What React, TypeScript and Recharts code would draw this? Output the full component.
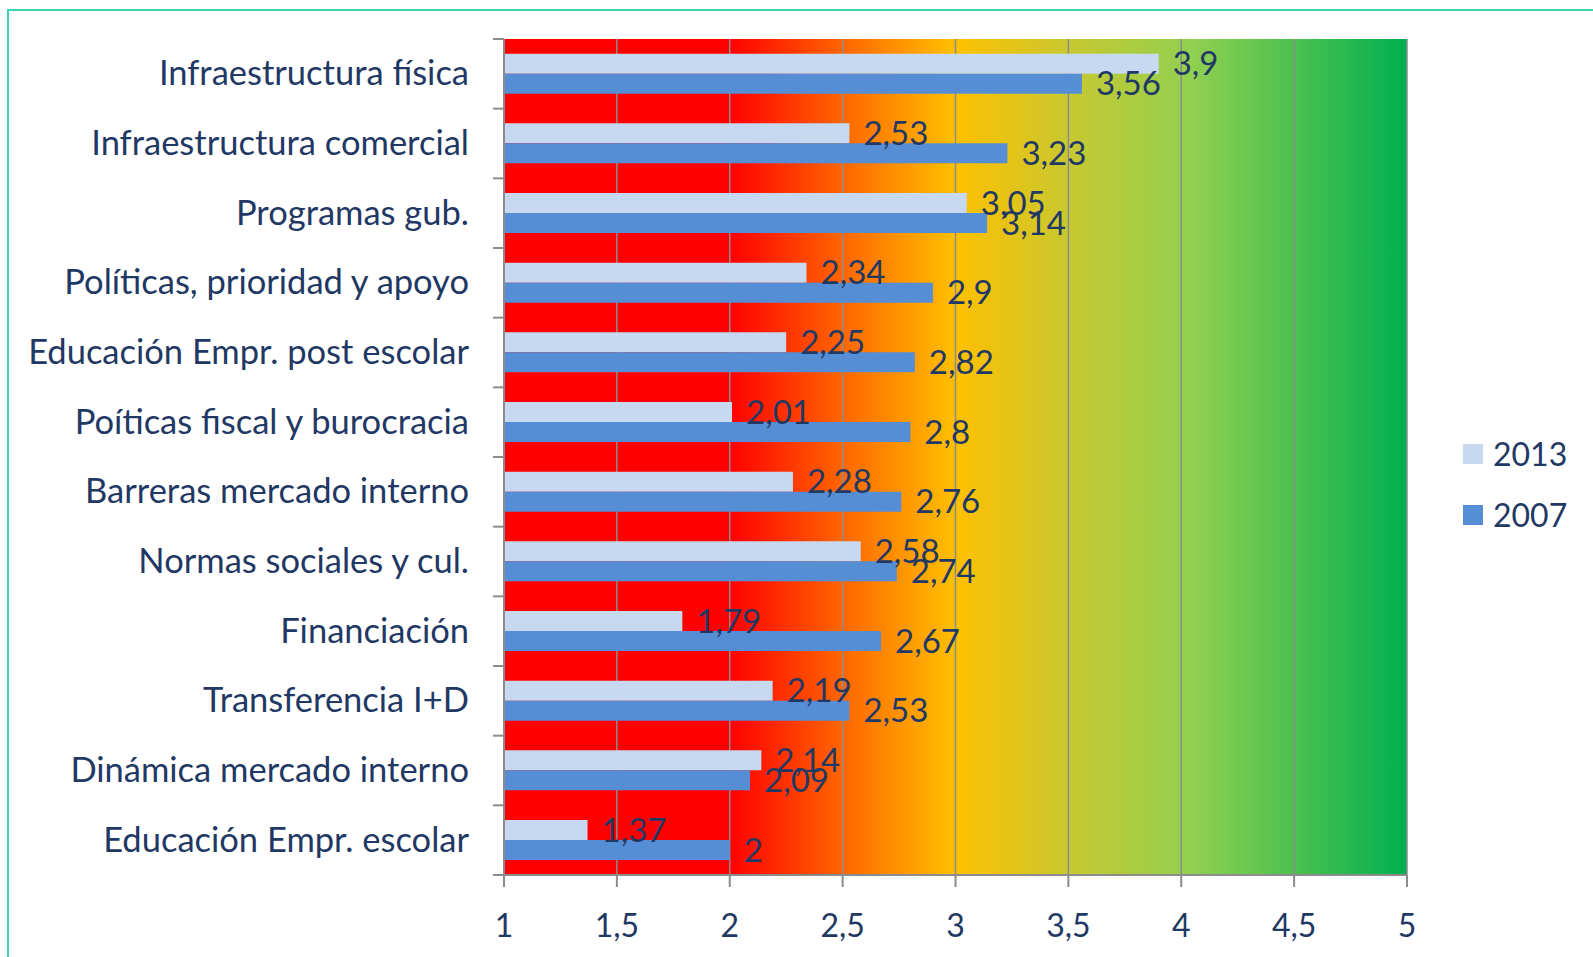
import {
  BarChart,
  Bar,
  XAxis,
  YAxis,
  CartesianGrid,
  LabelList,
} from "recharts";

const categories = [
  "Infraestructura física",
  "Infraestructura comercial",
  "Programas gub.",
  "Políticas, prioridad y apoyo",
  "Educación Empr. post escolar",
  "Poíticas fiscal y burocracia",
  "Barreras mercado interno",
  "Normas sociales y cul.",
  "Financiación",
  "Transferencia I+D",
  "Dinámica mercado interno",
  "Educación Empr. escolar",
];

const values2013 = [3.9, 2.53, 3.05, 2.34, 2.25, 2.01, 2.28, 2.58, 1.79, 2.19, 2.14, 1.37];
const values2007 = [3.56, 3.23, 3.14, 2.9, 2.82, 2.8, 2.76, 2.74, 2.67, 2.53, 2.09, 2];

const xTicks = [1, 1.5, 2, 2.5, 3, 3.5, 4, 4.5, 5];

const series = [
  { key: "v2013", name: "2013", color: "#c6d9f1" },
  { key: "v2007", name: "2007", color: "#558ed5" },
];

const data = categories.map((name, i) => ({
  name,
  v2013: values2013[i],
  v2007: values2007[i],
}));

const TEXT = "#1f3864";
const AXIS = "#8c8c8c";
const FONT = "Lato, 'Open Sans', sans-serif";

const W = 1593;
const H = 957;
const PLOT_TOP = 39;
const PLOT_BOTTOM = 875;
const Y_AXIS_W = 504;
const RIGHT = 186;
const band = (PLOT_BOTTOM - PLOT_TOP) / categories.length;

const fmt = (v: number | string) => String(v).replace(".", ",");

const CategoryTick = (props: any) => {
  const { x, y, payload, index } = props;
  const top = y - band / 2;
  return (
    <g>
      <line x1={Y_AXIS_W - 11} x2={Y_AXIS_W} y1={top} y2={top} stroke={AXIS} strokeWidth={2} />
      {index === categories.length - 1 && (
        <line
          x1={Y_AXIS_W - 11}
          x2={Y_AXIS_W}
          y1={y + band / 2}
          y2={y + band / 2}
          stroke={AXIS}
          strokeWidth={2}
        />
      )}
      <text
        x={x - 27}
        y={y - 2}
        textAnchor="end"
        dominantBaseline="central"
        fill={TEXT}
        fontSize={34.5}
        fontFamily={FONT}
      >
        {payload.value}
      </text>
    </g>
  );
};

const ValueTick = (props: any) => {
  const { x, payload } = props;
  return (
    <text
      x={x}
      y={PLOT_BOTTOM + 49}
      textAnchor="middle"
      dominantBaseline="central"
      fill={TEXT}
      fontSize={32}
      fontFamily={FONT}
    >
      {fmt(payload.value)}
    </text>
  );
};

export default function App() {
  return (
    <div style={{ position: "absolute", left: 0, top: 0, width: W, height: H, background: "#fff" }}>
      <div
        style={{
          position: "absolute",
          left: 7,
          top: 9,
          right: -10,
          bottom: -10,
          borderLeft: "2px solid #3fd3b6",
          borderTop: "2px solid #3fd3b6",
        }}
      />
      <BarChart
        width={W}
        height={H}
        data={data}
        layout="vertical"
        margin={{ top: PLOT_TOP, right: RIGHT, bottom: 0, left: 0 }}
        barCategoryGap="21%"
        barGap={0}
      >
        <defs>
          <linearGradient id="bgGrad" x1="0" y1="0" x2="1" y2="0">
            <stop offset="0%" stopColor="#ff0000" />
            <stop offset="25%" stopColor="#ff0000" />
            <stop offset="37.5%" stopColor="#ff6600" />
            <stop offset="50%" stopColor="#ffc000" />
            <stop offset="62.5%" stopColor="#c8c830" />
            <stop offset="76%" stopColor="#92d050" />
            <stop offset="100%" stopColor="#00b050" />
          </linearGradient>
        </defs>
        <CartesianGrid
          horizontal={false}
          vertical={true}
          stroke={AXIS}
          strokeWidth={1.5}
          fill="url(#bgGrad)"
          fillOpacity={1}
        />
        <XAxis
          type="number"
          domain={[1, 5]}
          ticks={xTicks}
          height={H - PLOT_BOTTOM}
          stroke={AXIS}
          strokeWidth={2}
          tickSize={12}
          tick={<ValueTick />}
          interval={0}
        />
        <YAxis
          type="category"
          dataKey="name"
          width={Y_AXIS_W}
          stroke={AXIS}
          strokeWidth={2}
          tickLine={false}
          tick={<CategoryTick />}
          interval={0}
        />
        {series.map((s) => (
          <Bar key={s.key} dataKey={s.key} name={s.name} fill={s.color} isAnimationActive={false}>
            <LabelList
              dataKey={s.key}
              position="right"
              offset={14}
              fill={TEXT}
              fontSize={33}
              fontFamily={FONT}
              formatter={(v: any) => fmt(v)}
            />
          </Bar>
        ))}
      </BarChart>
      <div style={{ position: "absolute", left: 1463, top: 423, fontFamily: FONT }}>
        {series.map((s) => (
          <div key={s.key} style={{ display: "flex", alignItems: "center", height: 61 }}>
            <div style={{ width: 20, height: 20, background: s.color, marginRight: 10 }} />
            <span style={{ color: TEXT, fontSize: 32 }}>{s.name}</span>
          </div>
        ))}
      </div>
    </div>
  );
}
